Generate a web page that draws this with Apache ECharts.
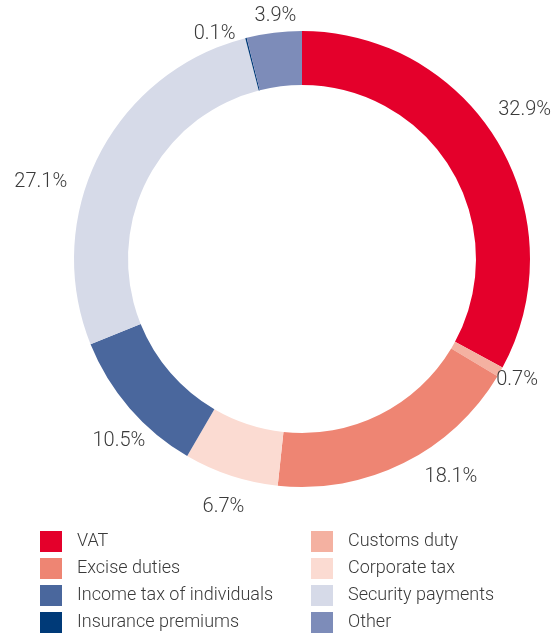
<!DOCTYPE html>
<html>
<head>
<meta charset="utf-8">
<script src="https://cdn.jsdelivr.net/npm/echarts@6/dist/echarts.min.js"></script>
<style>
  html, body { margin: 0; padding: 0; background: #fff; }
  #main { width: 557px; height: 634px; }
</style>
</head>
<body>
<div id="main"></div>
<script>
// categories in clockwise order from 12 o'clock
var categories = ['VAT', 'Customs duty', 'Excise duties', 'Corporate tax',
  'Income tax of individuals', 'Security payments', 'Insurance premiums', 'Other'];
var shares = [32.9, 0.7, 18.1, 6.7, 10.5, 27.1, 0.1, 3.9];
var colors = ['#E4002B', '#F4B1A1', '#EE8573', '#FBDBD2',
  '#4A679D', '#D6DAE8', '#003A78', '#7D8CB9'];

var leftLegend = ['VAT', 'Excise duties', 'Income tax of individuals', 'Insurance premiums'];
var rightLegend = ['Customs duty', 'Corporate tax', 'Security payments', 'Other'];

var CX = 302, CY = 259, R_IN = 174, R_OUT = 228;
var LABEL_R = 258;
// hand placement of the labels, as in the original artwork
var labelNudge = [[1, -17], [-9, -7], [34, -13], [2, 3], [12, 13], [-31, 39], [-24, 25], [5, 13]];

var total = shares.reduce(function (a, b) { return a + b; }, 0);
var midAngles = [];
var acc = 0;
shares.forEach(function (v) {
  midAngles.push((acc + v / 2) / total * Math.PI * 2);
  acc += v;
});

var chart = echarts.init(document.getElementById('main'));

var pieData = categories.map(function (name, i) {
  return { name: name, value: shares[i], itemStyle: { color: colors[i] } };
});

var legendText = {
  fontFamily: 'Roboto', fontWeight: 300, fontSize: 18, color: '#3a3a3a',
  padding: [0, 0, 0, 10]
};

var option = {
  animation: false,
  legend: [{
    data: leftLegend,
    orient: 'vertical',
    left: 40, top: 531,
    padding: 0,
    itemWidth: 22, itemHeight: 21, itemGap: 6,
    icon: 'rect',
    selectedMode: false,
    textStyle: legendText
  }, {
    data: rightLegend,
    orient: 'vertical',
    left: 311, top: 531,
    padding: 0,
    itemWidth: 22, itemHeight: 21, itemGap: 6,
    icon: 'rect',
    selectedMode: false,
    textStyle: legendText
  }],
  series: [{
    type: 'pie',
    center: [CX, CY],
    radius: [R_IN, R_OUT],
    startAngle: 90,
    clockwise: true,
    avoidLabelOverlap: false,
    itemStyle: { borderWidth: 0 },
    label: {
      show: true,
      position: 'outside',
      overflow: 'none',
      formatter: function (p) { return p.value.toFixed(1) + '%'; },
      fontFamily: 'Roboto', fontWeight: 300, fontSize: 20, color: '#3a3a3a'
    },
    labelLine: { show: false },
    labelLayout: function (params) {
      var i = params.dataIndex;
      var a = midAngles[i];
      return {
        x: CX + Math.sin(a) * LABEL_R + labelNudge[i][0],
        y: CY - Math.cos(a) * LABEL_R + labelNudge[i][1],
        align: 'center',
        verticalAlign: 'middle'
      };
    },
    emphasis: { disabled: true },
    data: pieData
  }]
};

chart.setOption(option);
</script>
</body>
</html>
